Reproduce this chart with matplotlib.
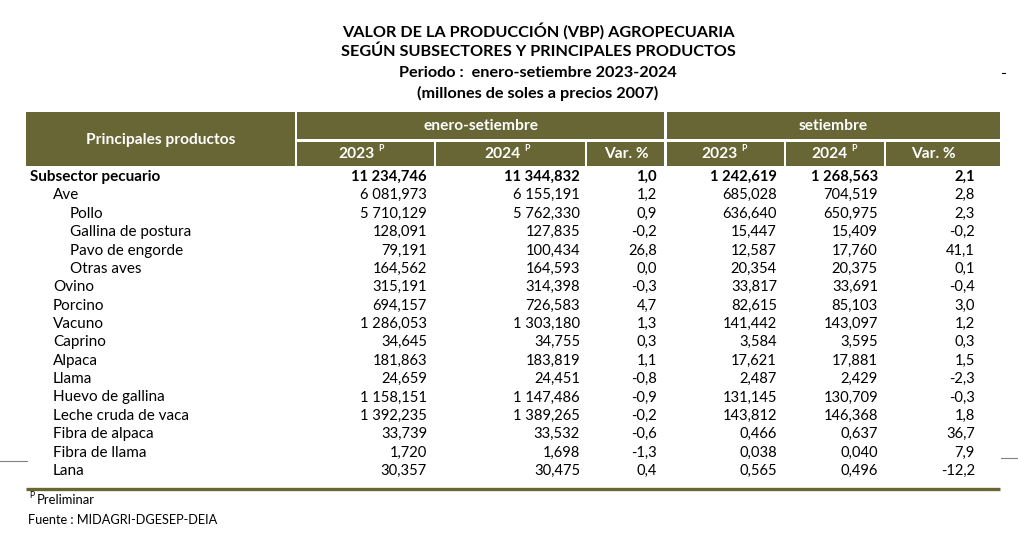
import matplotlib
matplotlib.use("Agg")
import matplotlib.pyplot as plt
from matplotlib.patches import Rectangle

# ---------------- data ----------------
title_lines = [
    "VALOR DE LA PRODUCCIÓN (VBP) AGROPECUARIA",
    "SEGÚN SUBSECTORES Y PRINCIPALES PRODUCTOS",
    "Periodo :  enero-setiembre 2023-2024",
    "(millones de soles a precios 2007)",
]
products = [
    "Subsector pecuario", "Ave", "Pollo", "Gallina de postura", "Pavo de engorde",
    "Otras aves", "Ovino", "Porcino", "Vacuno", "Caprino", "Alpaca", "Llama",
    "Huevo de gallina", "Leche cruda de vaca", "Fibra de alpaca", "Fibra de llama", "Lana",
]
indent_level = [0, 1, 2, 2, 2, 2, 1, 1, 1, 1, 1, 1, 1, 1, 1, 1, 1]
ene_2023 = [11234.746, 6081.973, 5710.129, 128.091, 79.191, 164.562, 315.191, 694.157,
            1286.053, 34.645, 181.863, 24.659, 1158.151, 1392.235, 33.739, 1.720, 30.357]
ene_2024 = [11344.832, 6155.191, 5762.330, 127.835, 100.434, 164.593, 314.398, 726.583,
            1303.180, 34.755, 183.819, 24.451, 1147.486, 1389.265, 33.532, 1.698, 30.475]
ene_var = [1.0, 1.2, 0.9, -0.2, 26.8, 0.0, -0.3, 4.7, 1.3, 0.3, 1.1, -0.8, -0.9, -0.2, -0.6, -1.3, 0.4]
set_2023 = [1242.619, 685.028, 636.640, 15.447, 12.587, 20.354, 33.817, 82.615, 141.442,
            3.584, 17.621, 2.487, 131.145, 143.812, 0.466, 0.038, 0.565]
set_2024 = [1268.563, 704.519, 650.975, 15.409, 17.760, 20.375, 33.691, 85.103, 143.097,
            3.595, 17.881, 2.429, 130.709, 146.368, 0.637, 0.040, 0.496]
set_var = [2.1, 2.8, 2.3, -0.2, 41.1, 0.1, -0.4, 3.0, 1.2, 0.3, 1.5, -2.3, -0.3, 1.8, 36.7, 7.9, -12.2]
group_labels = ["enero-setiembre", "setiembre"]
sub_labels = ["2023", "2024", "Var. %", "2023", "2024", "Var. %"]
sub_prelim = [True, True, False, True, True, False]
stub_label = "Principales productos"
foot_sup = "P"
foot_note = "Preliminar"
source = "Fuente : MIDAGRI-DGESEP-DEIA"

# ---------------- style ----------------
OLIVE = "#676634"
FONT = "Lato"
W, H = 1018, 557
HDR_FS = 11.2
LAB_FS = 11.0
NUM_FS = 10.6

def fmt(v, d):
    s = f"{v:,.{d}f}"
    return s.replace(",", " ").replace(".", ",")

fig = plt.figure(figsize=(W / 100, H / 100), dpi=100)
ax = fig.add_axes([0, 0, 1, 1])
ax.set_xlim(0, W)
ax.set_ylim(H, 0)
ax.axis("off")

# title
for i, t in enumerate(title_lines):
    ax.text(538, 31.5 + i * 20.6, t, ha="center", va="center", fontsize=11.7,
            fontweight="bold", family=FONT, color="black")

# header boxes
top, mid, bot = 112, 140, 165.5
gap = 1.5
def box(x0, x1, y0, y1):
    ax.add_patch(Rectangle((x0, y0), x1 - x0, y1 - y0, facecolor=OLIVE, edgecolor="none"))

box(26, 297 - gap, top, bot)
box(297, 666 - gap, top, mid - gap)
box(667, 1000, top, mid - gap)
edges = [297, 436, 587, 666, 786, 886, 1000]
for k in range(6):
    x0 = edges[k] if k != 3 else 667
    x1 = edges[k + 1] - (gap if edges[k + 1] != 1000 else 0)
    box(x0, x1, mid + gap, bot)

ax.text(161, 140, stub_label, ha="center", va="center", fontsize=HDR_FS,
        fontweight="bold", family=FONT, color="white")
ax.text((297 + 665) / 2, 126, group_labels[0], ha="center", va="center", fontsize=HDR_FS,
        fontweight="bold", family=FONT, color="white")
ax.text((667 + 1000) / 2, 126, group_labels[1], ha="center", va="center", fontsize=HDR_FS,
        fontweight="bold", family=FONT, color="white")
sub_centers = [361, 507, 626, 724, 834, 933]
for k, lab in enumerate(sub_labels):
    if sub_prelim[k]:
        ax.text(sub_centers[k] + 14, 154.5, lab, ha="right", va="center", fontsize=HDR_FS,
                fontweight="bold", family=FONT, color="white")
        ax.text(sub_centers[k] + 17, 148.5, foot_sup, ha="left", va="center", fontsize=6.3,
                fontweight="bold", family=FONT, color="white")
    else:
        ax.text(sub_centers[k], 154.5, lab, ha="center", va="center", fontsize=HDR_FS,
                fontweight="bold", family=FONT, color="white")

# body
row0, step = 177, 18.375
indents = {0: 30, 1: 53, 2: 70}
col_right = [427, 580, 657, 777, 878, 975]
cols = [(ene_2023, 3), (ene_2024, 3), (ene_var, 1), (set_2023, 3), (set_2024, 3), (set_var, 1)]
for i, name in enumerate(products):
    y = row0 + i * step
    w = "bold" if i == 0 else "normal"
    ax.text(indents[indent_level[i]], y, name, ha="left", va="center", fontsize=LAB_FS,
            fontweight=w, family=FONT, color="black")
    for c, (vals, d) in enumerate(cols):
        ax.text(col_right[c], y, fmt(vals[i], d), ha="right", va="center", fontsize=NUM_FS,
                fontweight=w, family=FONT, color="black")

# bottom rule
ax.plot([26, 1000], [489, 489], color=OLIVE, lw=2.4, solid_capstyle="butt")
# stray decorative lines
ax.plot([0, 27], [461, 461], color="#808080", lw=0.8)
ax.plot([1001, 1018], [458, 458], color="#808080", lw=0.8)
ax.plot([1002, 1005], [73, 73], color="black", lw=0.8)

# footnotes
ax.text(29, 495, foot_sup, ha="left", va="center", fontsize=6.3, family=FONT, color="black")
ax.text(37, 499.5, foot_note, ha="left", va="center", fontsize=9.4, family=FONT, color="black")
ax.text(28, 519.5, source, ha="left", va="center", fontsize=9.2, family=FONT, color="black")

fig.savefig("out.png", dpi=100)
